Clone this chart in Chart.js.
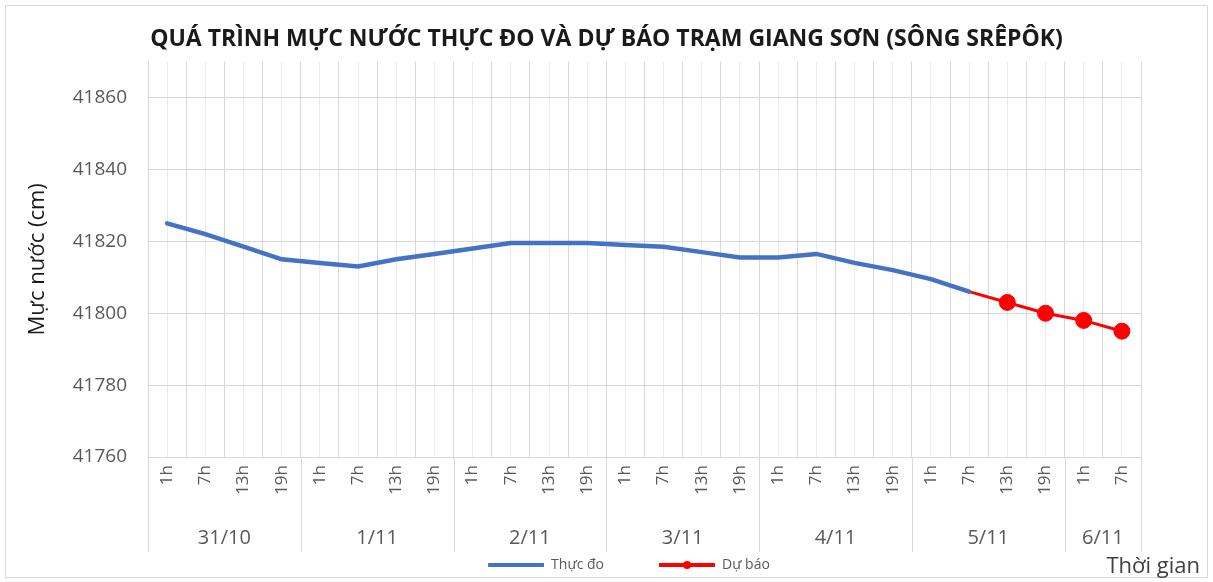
<!DOCTYPE html>
<html>
<head>
<meta charset="utf-8">
<script src="https://cdn.jsdelivr.net/npm/chart.js@4.4.1/dist/chart.umd.min.js"></script>
<style>
  html, body { margin: 0; padding: 0; background: #fff; }
  #wrap { width: 1213px; height: 582px; }
</style>
</head>
<body>
<div id="wrap"><canvas id="myChart" width="1213" height="582"></canvas></div>
<script>
// tick labels along the bottom (hour of the day)
const hours = ['1h','7h','13h','19h', '1h','7h','13h','19h', '1h','7h','13h','19h',
               '1h','7h','13h','19h', '1h','7h','13h','19h', '1h','7h','13h','19h', '1h','7h'];
const days = ['31/10', '1/11', '2/11', '3/11', '4/11', '5/11', '6/11'];
const hoursPerDay = [4, 4, 4, 4, 4, 4, 2];

// water level (cm)
const observed = [41825, 41822, 41818.5, 41815, 41814, 41813, 41815, 41816.5, 41818, 41819.5,
                  41819.5, 41819.5, 41819, 41818.5, 41817, 41815.5, 41815.5, 41816.5, 41814,
                  41812, 41809.5, 41806];
const forecast = [41806, 41803, 41800, 41798, 41795];
const forecastStart = 21;

const yMin = 41760, yMax = 41870, yStep = 20;

const GRID = '#d9d9d9';
const TEXT = '#595959';
const FONT = 'Open Sans';

// pad series to the full category length
const obsData = hours.map((h, i) => i < observed.length ? observed[i] : null);
const fcData = hours.map((h, i) => i >= forecastStart ? forecast[i - forecastStart] : null);

function legendIcon(color, dot) {
    const c = document.createElement('canvas');
    c.width = 101; c.height = 12;
    const g = c.getContext('2d');
    g.strokeStyle = color;
    g.lineWidth = 4;
    g.beginPath(); g.moveTo(45, 6); g.lineTo(101, 6); g.stroke();
    if (dot) {
        g.fillStyle = color;
        g.beginPath(); g.arc(73, 6, 4, 0, Math.PI * 2); g.fill();
    }
    return c;
}
const icons = [legendIcon('#4472C4', false), legendIcon('#FF0000', true)];

const frame = {
    id: 'frame',
    beforeDraw(chart) {
        const ctx = chart.ctx;
        ctx.save();
        ctx.fillStyle = '#fff';
        ctx.fillRect(0, 0, chart.width, chart.height);
        ctx.strokeStyle = GRID;
        ctx.lineWidth = 1;
        ctx.strokeRect(5.5, 5.5, chart.width - 11, chart.height - 10);
        ctx.restore();
    }
};

// second row of the category axis: the dates
const dayGroups = {
    id: 'dayGroups',
    afterDraw(chart) {
        const x = chart.scales.x, ctx = chart.ctx;
        const half = (x.getPixelForValue(1) - x.getPixelForValue(0)) / 2;
        const edges = [x.getPixelForValue(0) - half];
        ctx.save();
        ctx.fillStyle = TEXT;
        ctx.font = '20px "' + FONT + '"';
        ctx.textAlign = 'center';
        ctx.textBaseline = 'middle';
        let i = 0;
        days.forEach((d, k) => {
            const a = x.getPixelForValue(i) - half;
            i += hoursPerDay[k];
            const b = x.getPixelForValue(i - 1) + half;
            ctx.fillText(d, (a + b) / 2, x.bottom - 10);
            edges.push(b);
        });
        ctx.strokeStyle = GRID;
        ctx.lineWidth = 1;
        edges.forEach(e => {
            const px = Math.round(e) + 0.5;
            ctx.beginPath();
            ctx.moveTo(px, x.top);
            ctx.lineTo(px, x.bottom + 4);
            ctx.stroke();
        });
        ctx.fillStyle = '#404040';
        ctx.font = '22px "' + FONT + '"';
        ctx.textAlign = 'right';
        ctx.fillText('Thời gian', chart.width - 13, 567);
        ctx.restore();
    }
};

const ctx = document.getElementById('myChart').getContext('2d');
new Chart(ctx, {
    type: 'line',
    data: {
        labels: hours,
        datasets: [{
            label: 'Thực đo',
            data: obsData,
            borderColor: '#4472C4',
            backgroundColor: '#4472C4',
            borderWidth: 4.5,
            pointRadius: 0,
            borderCapStyle: 'round',
            tension: 0,
            fill: false
        },
        {
            label: 'Dự báo',
            data: fcData,
            borderColor: '#FF0000',
            backgroundColor: '#FF0000',
            borderWidth: 3,
            pointRadius: c => c.dataIndex === forecastStart ? 0 : 8,
            pointBorderWidth: 1,
            tension: 0,
            fill: false
        }]
    },
    options: {
        responsive: false,
        animation: false,
        layout: { padding: 0 },
        plugins: {
            title: {
                display: true,
                text: 'QUÁ TRÌNH MỰC NƯỚC THỰC ĐO VÀ DỰ BÁO TRẠM GIANG SƠN (SÔNG SRÊPÔK)',
                color: '#1a1a1a',
                font: { family: FONT, size: 23, weight: 'bold' },
                padding: { top: 26, bottom: 8 }
            },
            legend: {
                position: 'bottom',
                labels: {
                    usePointStyle: true,
                    pointStyleWidth: 101,
                    padding: 10,
                    color: TEXT,
                    font: { family: FONT, size: 14 },
                    generateLabels(chart) {
                        const items = Chart.defaults.plugins.legend.labels.generateLabels(chart);
                        items.forEach((it, i) => { it.pointStyle = icons[i]; });
                        return items;
                    }
                }
            },
            tooltip: { enabled: false }
        },
        scales: {
            x: {
                offset: true,
                grid: { color: GRID, offset: true, drawTicks: false },
                border: { color: GRID },
                ticks: {
                    autoSkip: false,
                    minRotation: 90,
                    maxRotation: 90,
                    padding: 8,
                    color: TEXT,
                    font: { family: FONT, size: 17 }
                },
                afterFit(s) { s.height = 91; }
            },
            xc: {
                type: 'category',
                labels: hours,
                position: 'bottom',
                offset: true,
                grid: { color: '#ebebeb', offset: false, drawTicks: false },
                border: { display: false },
                ticks: { display: false },
                afterFit(s) { s.height = 0; }
            },
            y: {
                min: yMin,
                max: yMax,
                grid: { color: GRID, drawTicks: false },
                border: { color: GRID },
                ticks: {
                    stepSize: yStep,
                    padding: 21,
                    color: TEXT,
                    font: { family: FONT, size: 19 },
                    callback: v => String(v)
                },
                afterBuildTicks(s) {
                    s.ticks = s.ticks.filter(t => (t.value - yMin) % yStep === 0);
                },
                title: {
                    display: true,
                    text: 'Mực nước (cm)',
                    color: '#1a1a1a',
                    font: { family: FONT, size: 22 },
                    padding: { top: 25 }
                },
                afterFit(s) { s.width = 148; }
            },
            yr: {
                position: 'right',
                grid: { display: false },
                border: { display: false },
                ticks: { display: false },
                afterFit(s) { s.width = 72; }
            }
        }
    },
    plugins: [frame, dayGroups]
});
</script>
</body>
</html>
